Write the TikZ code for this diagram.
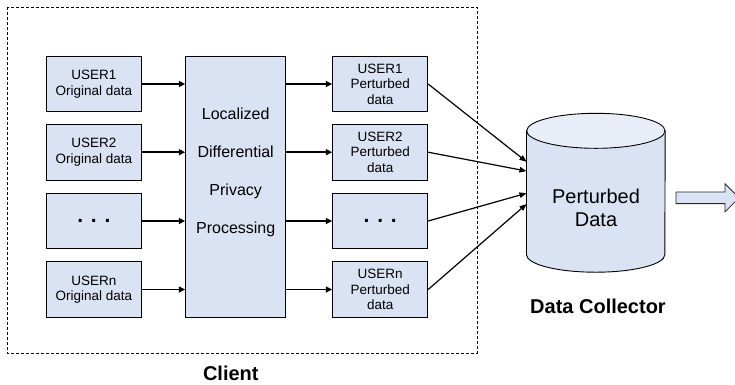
\documentclass[tikz,border=0pt]{standalone}
\usepackage{fontspec}
\setmainfont{Liberation Sans}
\usetikzlibrary{arrows.meta,calc}
\definecolor{boxfill}{RGB}{218,227,243}
\definecolor{topfill}{RGB}{233,237,247}

\begin{document}
\begin{tikzpicture}[x=1pt,y=-1pt,
  databox/.style={draw=black,line width=0.9pt,fill=boxfill,minimum width=95.5pt,
    minimum height=55.5pt,inner sep=0pt,align=center,
    font=\fontsize{13.5}{15.6}\selectfont},
  feed/.style={line width=1.8pt,-{Triangle[length=6.5pt,width=6pt]}},
  upload/.style={line width=1.2pt,-{Triangle[length=7pt,width=5.5pt]}},
  caption/.style={font=\fontsize{20}{24}\selectfont\bfseries},
  dots/.style={font=\fontsize{21}{24}\selectfont\bfseries}]

\useasboundingbox (0,0) rectangle (735,384);
\clip (0,0) rectangle (735,384);

% client boundary
\draw[line width=0.8pt,dash pattern=on 3pt off 2pt] (7,7) rectangle (477,353);

% original data of each user
\node[databox] (u1) at (93.85,84)    {USER1\\Original data};
\node[databox] (u2) at (93.85,152.2) {USER2\\Original data};
\node[databox,dots] (u3) at (93.85,221) {. . .};
\node[databox] (un) at (93.85,289.5) {USERn\\Original data};

% LDP processing block
\node[draw=black,line width=0.9pt,fill=boxfill,minimum width=100pt,
      minimum height=260.6pt,inner sep=0pt] (mid) at (235.7,187) {};
\node[align=center,inner sep=0pt,font=\fontsize{16}{38.2}\selectfont] (midtext)
  at (235.7,172.5) {Localized\\Differential\\Privacy\\Processing};

% perturbed data of each user
\node[databox,minimum width=95pt] (p1) at (380.2,84)    {USER1\\Perturbed\\data};
\node[databox,minimum width=95pt] (p2) at (380.2,152.2) {USER2\\Perturbed\\data};
\node[databox,minimum width=95pt,dots] (p3) at (380.2,221) {. . .};
\node[databox,minimum width=95pt] (pn) at (380.2,289.5) {USERn\\Perturbed\\data};

% client arrows
\foreach \u in {u1,u2,u3,un}
  \draw[feed] (\u.east) -- (\u.east -| mid.west);
\foreach \p in {p1,p2,p3,pn}
  \draw[feed] (mid.east |- \p.west) -- (\p.west);

% data collector cylinder
\node[minimum width=138.3pt,minimum height=123.5pt,inner sep=0pt] (db) at (595.85,192.75) {};
\filldraw[fill=boxfill,line width=0.9pt]
  (db.north west) -- (db.south west)
  arc[start angle=180,end angle=360,x radius=69.15pt,y radius=17.5pt]
  -- (db.north east) -- cycle;
\filldraw[fill=topfill,line width=0.9pt] (db.north) ellipse[x radius=69.15pt,y radius=17.5pt];
\node[align=center,inner sep=0pt,font=\fontsize{20}{23.4}\selectfont] (dbtext)
  at (596,207.7) {Perturbed\\Data};

% uploads to the collector
\draw[upload] (p1.east) -- ([yshift=31pt]db.west);
\draw[upload] (p2.east) -- ([yshift=21.7pt]db.west);
\draw[upload] (p3.east) -- ([yshift=-0.5pt]db.west);
\draw[upload] (pn.east) -- ([yshift=-11.3pt]db.west);

% outgoing block arrow
\filldraw[fill=boxfill,draw=black!85,line width=0.8pt]
  (676,192) -- (725,192) -- (725,183.8) -- (739,197.8) -- (725,211.8)
  -- (725,203.6) -- (676,203.6) -- cycle;

% captions
\node[caption,inner sep=0pt] (collector) at (598,306) {Data Collector};
\node[caption,inner sep=0pt] (client) at (230.8,373) {Client};
\end{tikzpicture}
\end{document}
